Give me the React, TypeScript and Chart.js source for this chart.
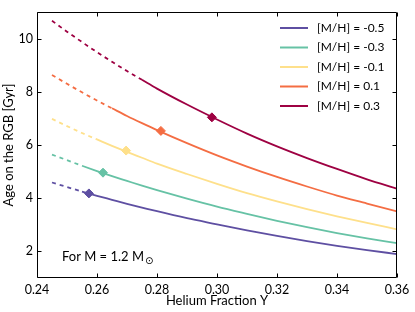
import React, { useEffect, useRef } from 'react';
import { Chart, registerables } from 'chart.js';

Chart.register(...registerables);

// Helium fraction Y sample points (x axis)
const heliumY = [0.245, 0.25, 0.255, 0.26, 0.265, 0.27, 0.275, 0.28, 0.29, 0.30, 0.31, 0.32, 0.33, 0.34, 0.35, 0.36];

// Age on the RGB [Gyr] for each metallicity
const ageM05 = [4.59, 4.42, 4.25, 4.09, 3.94, 3.79, 3.65, 3.51, 3.25, 3.02, 2.79, 2.58, 2.39, 2.21, 2.05, 1.90];
const ageM03 = [5.64, 5.43, 5.22, 5.02, 4.83, 4.65, 4.47, 4.30, 3.98, 3.68, 3.41, 3.15, 2.91, 2.69, 2.49, 2.31];
const ageM01 = [6.98, 6.71, 6.45, 6.21, 5.97, 5.74, 5.52, 5.30, 4.91, 4.54, 4.19, 3.88, 3.59, 3.32, 3.07, 2.83];
const ageP01 = [8.63, 8.30, 7.98, 7.67, 7.38, 7.09, 6.82, 6.56, 6.07, 5.61, 5.19, 4.80, 4.44, 4.10, 3.80, 3.50];
const ageP03 = [10.67, 10.26, 9.87, 9.49, 9.13, 8.78, 8.45, 8.12, 7.52, 6.96, 6.43, 5.95, 5.51, 5.10, 4.71, 4.36];

const seriesLabels = ['[M/H] = -0.5', '[M/H] = -0.3', '[M/H] = -0.1', '[M/H] = 0.1', '[M/H] = 0.3'];
const seriesAges = [ageM05, ageM03, ageM01, ageP01, ageP03];
const seriesColors = ['#5e4fa2', '#66c2a5', '#fee08b', '#f46d43', '#9e0142'];

// Helium fraction where the dashed (extrapolated) part ends
const dashEndY = [0.255, 0.255, 0.26, 0.265, 0.275];

// Diamond markers
const markerY = [0.2573, 0.262, 0.2697, 0.2813, 0.2983];
const markerAge = [4.18, 4.96, 5.79, 6.53, 7.04];

const xTicks = [0.24, 0.26, 0.28, 0.30, 0.32, 0.34, 0.36];
const yTicks = [2, 4, 6, 8, 10];

const FONT = "Lato, 'DejaVu Sans', sans-serif";

const decorPlugin = {
  id: 'decor',
  afterDraw(chart: any) {
    const { ctx, chartArea: a, scales } = chart;
    const xs = scales.x;
    const ys = scales.y;
    ctx.save();
    ctx.strokeStyle = '#000';
    ctx.lineWidth = 1;
    const L = Math.round(a.left) + 0.5;
    const R = Math.round(a.right) - 0.5;
    const T = Math.round(a.top) + 0.5;
    const B = Math.round(a.bottom) - 0.5;
    ctx.beginPath();
    ctx.rect(L, T, R - L, B - T);
    ctx.stroke();
    const tl = 4;
    ctx.beginPath();
    xTicks.forEach((v) => {
      const px = Math.round(xs.getPixelForValue(v)) + 0.5;
      ctx.moveTo(px, B);
      ctx.lineTo(px, B - tl);
      ctx.moveTo(px, T);
      ctx.lineTo(px, T + tl);
    });
    yTicks.forEach((v) => {
      const py = Math.round(ys.getPixelForValue(v)) + 0.5;
      ctx.moveTo(L, py);
      ctx.lineTo(L + tl, py);
      ctx.moveTo(R, py);
      ctx.lineTo(R - tl, py);
    });
    ctx.stroke();

    // legend
    ctx.font = `12px ${FONT}`;
    ctx.textBaseline = 'middle';
    ctx.textAlign = 'left';
    const lx0 = 280, lx1 = 308, tx = 317, y0 = 28, dy = 19.5;
    seriesLabels.forEach((lab, i) => {
      const yy = y0 + i * dy;
      ctx.strokeStyle = seriesColors[i];
      ctx.lineWidth = 2;
      ctx.beginPath();
      ctx.moveTo(lx0, yy);
      ctx.lineTo(lx1, yy);
      ctx.stroke();
      ctx.fillStyle = '#000';
      ctx.fillText(lab, tx, yy);
    });

    // annotation
    ctx.font = `13px ${FONT}`;
    ctx.fillStyle = '#000';
    const main = 'For M = 1.2 M';
    ctx.fillText(main, 62, 257);
    const w = ctx.measureText(main).width;
    ctx.font = `10px 'DejaVu Sans', sans-serif`;
    ctx.fillText('\u2299', 62 + w + 1, 261);
    ctx.restore();
  },
};

export default function App() {
  const ref = useRef<HTMLCanvasElement | null>(null);
  useEffect(() => {
    if (!ref.current) return;
    const lineSets = seriesAges.map((ages, i) => ({
      type: 'line' as const,
      label: seriesLabels[i],
      data: heliumY.map((x, j) => ({ x, y: ages[j] })),
      borderColor: seriesColors[i],
      backgroundColor: seriesColors[i],
      borderWidth: 1.8,
      pointRadius: 0,
      cubicInterpolationMode: 'monotone' as const,
      fill: false,
      segment: {
        borderDash: (c: any) => (c.p1.parsed.x <= dashEndY[i] + 1e-9 ? [4, 4] : undefined),
      },
    }));
    const markerSets = seriesColors.map((col, i) => ({
      type: 'scatter' as const,
      label: 'marker' + i,
      data: [{ x: markerY[i], y: markerAge[i] }],
      pointStyle: 'rectRot' as const,
      pointRadius: 4.5,
      backgroundColor: col,
      borderColor: col,
      borderWidth: 1,
    }));
    const chart = new Chart(ref.current, {
      type: 'line',
      data: { datasets: [...lineSets, ...markerSets] as any },
      options: {
        responsive: false,
        animation: false,
        devicePixelRatio: 1,
        layout: { padding: { top: 12, right: 18, left: 0, bottom: 0 } },
        plugins: { legend: { display: false }, tooltip: { enabled: false } },
        scales: {
          x: {
            type: 'linear',
            min: 0.24,
            max: 0.36,
            afterBuildTicks: (s: any) => { s.ticks = xTicks.map((v) => ({ value: v })); },
            afterFit: (s: any) => { s.height = 34; },
            grid: { display: false, drawTicks: false },
            border: { display: false },
            ticks: {
              padding: 4,
              color: '#000',
              font: { family: FONT, size: 12.5 },
              maxRotation: 0,
              callback: (v: any) => Number(v).toFixed(2),
            },
            title: {
              display: true,
              text: 'Helium Fraction Y',
              color: '#000',
              font: { family: FONT, size: 13 },
              padding: { top: 0, bottom: 3 },
            },
          },
          y: {
            type: 'linear',
            min: 1,
            max: 11,
            afterBuildTicks: (s: any) => { s.ticks = yTicks.map((v) => ({ value: v })); },
            afterFit: (s: any) => { s.width = 37; },
            grid: { display: false, drawTicks: false },
            border: { display: false },
            ticks: {
              padding: 4,
              color: '#000',
              font: { family: FONT, size: 12.5 },
              callback: (v: any) => String(v),
            },
            title: {
              display: true,
              text: 'Age on the RGB [Gyr]',
              color: '#000',
              font: { family: FONT, size: 13 },
              padding: { top: 1, bottom: 0 },
            },
          },
        },
      },
      plugins: [decorPlugin],
    });
    return () => chart.destroy();
  }, []);
  return (
    <div style={{ position: 'fixed', left: 0, top: 0, width: 415, height: 312, background: '#fff' }}>
      <canvas ref={ref} width={415} height={312} />
    </div>
  );
}
